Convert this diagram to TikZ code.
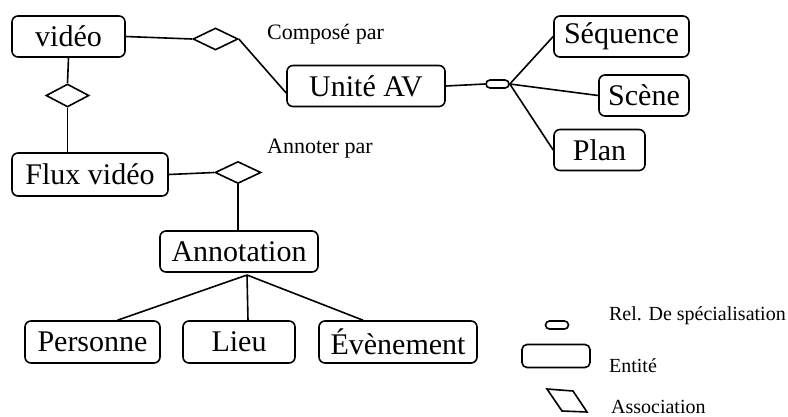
\documentclass[tikz,border=0pt]{standalone}
\usepackage{fontspec}
\setmainfont{Liberation Serif}
\usetikzlibrary{shapes.geometric}
\usetikzlibrary{calc}

\begin{document}
\begin{tikzpicture}[x=1pt,y=-1pt,line width=1.6pt,
		entite/.style={draw,rounded corners=6pt,minimum height=41pt,inner sep=0pt,font=\fontsize{30}{35}\selectfont},
		assoc/.style={draw,diamond,inner sep=0pt,minimum width=45pt,minimum height=22pt},
		relspec/.style={draw,rounded corners=4pt,minimum width=23pt,minimum height=8pt,inner sep=0pt},
		etiq/.style={anchor=base west,font=\fontsize{22}{26}\selectfont},
		legende/.style={anchor=base west,font=\fontsize{20}{24}\selectfont}]
		\useasboundingbox (0,0) rectangle (788,416);
		% entites
		\node[entite,minimum width=113pt](video) at (68.5,36.5){vidéo};
		\node[entite,minimum width=158pt](unite) at (366,86){Unité AV};
		\node[entite,minimum width=135pt](seq) at (621.5,36.5){Séquence};
		\node[entite,minimum width=90pt](scene) at (644,95.5){Scène};
		\node[entite,minimum width=91pt](plan) at (599.5,150){Plan};
		\node[entite,minimum width=156pt,minimum height=43pt](flux) at (90,174.5){Flux vidéo};
		\node[entite,minimum width=158pt](annot) at (239,251.5){Annotation};
		\node[entite,minimum width=135pt,minimum height=42pt](pers) at (92.5,342){Personne};
		\node[entite,minimum width=112pt,minimum height=42pt](lieu) at (239,342){Lieu};
		\node[entite,minimum width=158pt,minimum height=42pt](even) at (398,342){Évènement};
		% associations
		\node[assoc](compose) at (215.5,39){};
		\node[assoc,minimum width=43pt,minimum height=23pt](flot) at (67.5,95.5){};
		\node[assoc,minimum width=46pt](annoter) at (238,172.5){};
		\node[relspec](special) at (497.5,84){};
		\node[etiq](lcompose) at (263,39){Composé par};
		\node[etiq](lannoter) at (263,153){Annoter par};
		\coordinate(fork) at (247,275);
		% liens
		\draw (video.east) -- (compose.west);
		\draw (compose.east) -- ([yshift=-7pt]unite.west);
		\draw (video.south) -- (flot.north);
		\draw (flot.south) -- (flot.south |- flux.north);
		\draw (flux.east) -- (annoter.west);
		\draw (annoter.south) -- (annoter.south |- annot.north);
		\draw (unite.east) -- (special.west);
		\draw (special.east) -- (seq.west);
		\draw (special.east) -- (scene.west);
		\draw (special.east) -- (plan.west);
		\draw (fork) -- ($(pers.north)+(25,0)$);
		\draw (fork) -- ($(lieu.north)+(9,0)$);
		\draw (fork) -- ($(even.north)+(-35,0)$);
		% legende
		\node[relspec](lgspec) at (557,325){};
		\node[draw,rounded corners=5pt,minimum width=68pt,minimum height=23pt,inner sep=0pt](lgent) at (556,356){};
		\draw (547,389) -- (573,391) -- (587,412) -- (562,411) -- cycle;
		\node[legende](tspec) at (605,320){Rel. De spécialisation};
		\node[legende](tent) at (605,372){Entité};
		\node[legende](tassoc) at (607,413){Association};
	\end{tikzpicture}
\end{document}
